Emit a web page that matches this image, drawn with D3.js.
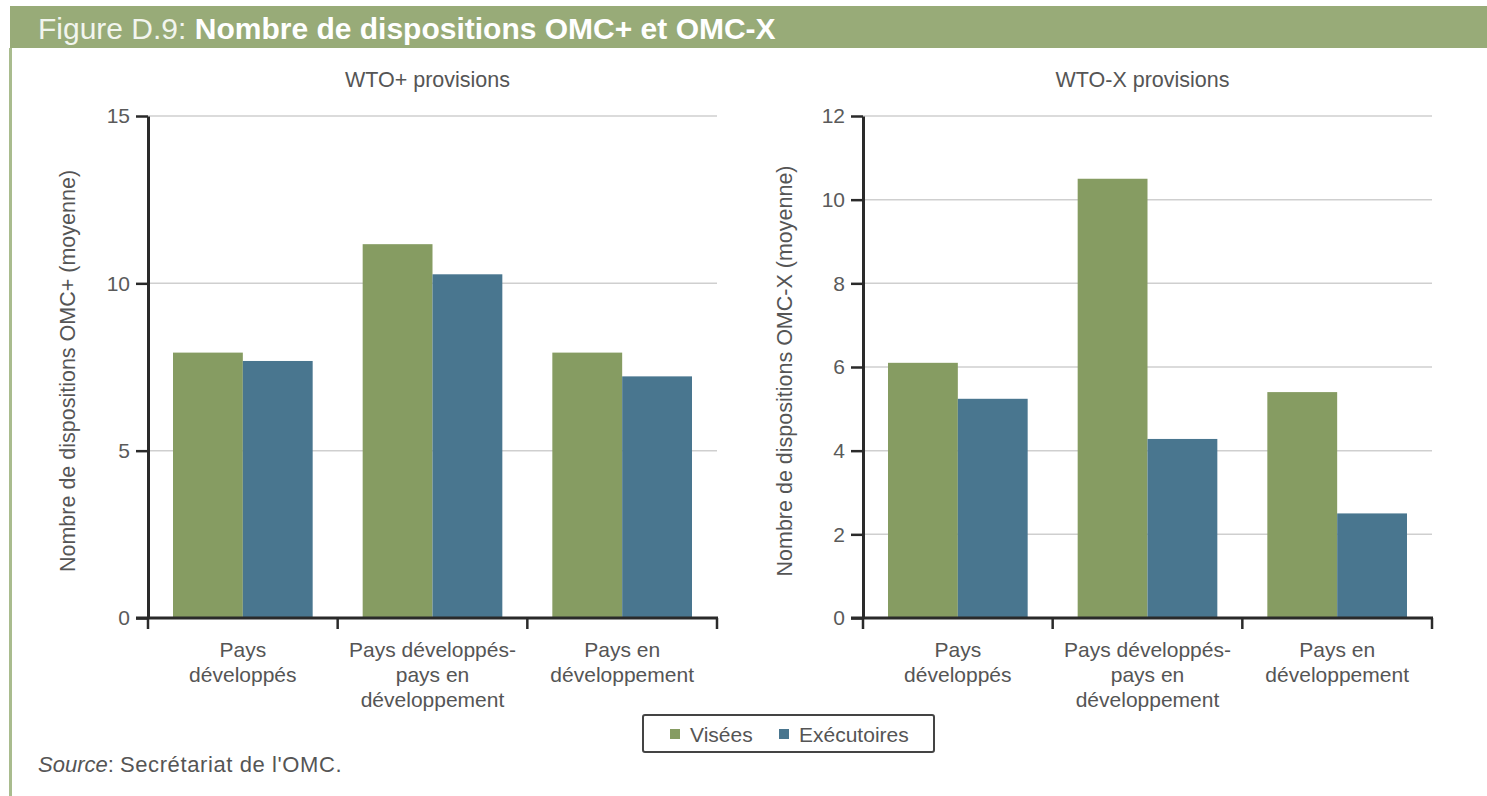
<!DOCTYPE html>
<html>
<head>
<meta charset="utf-8">
<script src="https://cdn.jsdelivr.net/npm/d3@7"></script>
<style>
  body { margin: 0; background: #fff; }
  svg { display: block; font-family: "Liberation Sans", Arial, sans-serif; }
</style>
</head>
<body>
<svg id="chart" width="1487" height="796"></svg>
<script>
// data
const categories = [
  ["Pays", "développés"],
  ["Pays développés-", "pays en", "développement"],
  ["Pays en", "développement"]
]
const series = ["Visées", "Exécutoires"]
const colors = ["#869c62", "#49768f"]

const wtoPlusVisees = [7.93, 11.17, 7.93]
const wtoPlusExec = [7.68, 10.27, 7.22]
const wtoXVisees = [6.1, 10.5, 5.4]
const wtoXExec = [5.24, 4.28, 2.5]

const leftTicks = [0, 5, 10, 15]
const rightTicks = [0, 2, 4, 6, 8, 10, 12]

const svg = d3.select("#chart")

// header band + frame
svg.append("rect").attr("x", 10).attr("y", 6).attr("width", 1477).attr("height", 42).attr("fill", "#98ab78")
svg.append("rect").attr("x", 9).attr("y", 48).attr("width", 3).attr("height", 748).attr("fill", "#a9bc8e")
const title = svg.append("text").attr("x", 38).attr("y", 39).attr("fill", "#fff").attr("font-size", 30)
title.append("tspan").attr("font-weight", "normal").attr("fill", "#f2f5ee").text("Figure D.9: ")
title.append("tspan").attr("font-weight", "bold").text("Nombre de dispositions OMC+ et OMC-X")

function panel(opts) {
  const {x0, x1, yTop, yBot, max, ticks, vis, exec, title, ylab} = opts
  const g = svg.append("g")

  const x = d3.scaleBand().domain(d3.range(categories.length)).range([x0, x1]).padding(0)
  const xs = d3.scaleBand().domain(series).range([25, x.bandwidth() - 25]).padding(0)
  const y = d3.scaleLinear().domain([0, max]).range([yBot, yTop])

  // grid
  g.append("g").selectAll("line").data(ticks.filter(t => t > 0)).join("line")
    .attr("x1", x0).attr("x2", x1)
    .attr("y1", d => y(d)).attr("y2", d => y(d))
    .attr("stroke", "#cfcfcf").attr("stroke-width", 1.5)

  // bars
  const rows = categories.map((c, i) => ({i, vals: [vis[i], exec[i]]}))
  g.append("g").selectAll("g").data(rows).join("g")
    .attr("transform", d => `translate(${x(d.i)},0)`)
    .selectAll("rect").data(d => d.vals.map((v, k) => ({k, v}))).join("rect")
      .attr("x", d => xs(series[d.k]))
      .attr("width", xs.bandwidth())
      .attr("y", d => y(d.v))
      .attr("height", d => y(0) - y(d.v))
      .attr("fill", d => colors[d.k])

  // y axis
  const ya = g.append("g").attr("transform", `translate(${x0},0)`)
    .call(d3.axisLeft(y).tickValues(ticks).tickSize(12).tickPadding(6).tickSizeOuter(0))
  ya.select(".domain").attr("stroke", "#2a2a2a").attr("stroke-width", 3)
  ya.selectAll(".tick line").attr("stroke", "#2a2a2a").attr("stroke-width", 2.5)
  ya.selectAll(".tick text").attr("font-size", 21).attr("fill", "#5a5a5a").attr("font-family", "Liberation Sans, Arial, sans-serif")

  // x axis
  const xa = g.append("g").attr("transform", `translate(0,${yBot})`)
  xa.append("line").attr("x1", x0 - 12).attr("x2", x1 + 1).attr("stroke", "#2a2a2a").attr("stroke-width", 3)
  xa.selectAll("line.t").data(d3.range(categories.length + 1)).join("line").attr("class", "t")
    .attr("x1", d => x0 + d * x.bandwidth()).attr("x2", d => x0 + d * x.bandwidth())
    .attr("y1", 0).attr("y2", 11).attr("stroke", "#2a2a2a").attr("stroke-width", 2.5)
  xa.selectAll("text").data(categories).join("text")
    .attr("x", (d, i) => x(i) + x.bandwidth() / 2)
    .attr("text-anchor", "middle").attr("font-size", 21).attr("fill", "#555")
    .selectAll("tspan").data(d => d).join("tspan")
      .attr("x", function() { return this.parentNode.getAttribute("x") })
      .attr("y", (d, j) => 39 + j * 25)
      .text(d => d)

  // titles
  g.append("text").attr("x", (x0 + x1) / 2 - 5).attr("y", 87).attr("text-anchor", "middle")
    .attr("font-size", 21.5).attr("fill", "#555").text(title)
  g.append("text").attr("transform", `translate(${opts.ylx},${(yTop + yBot) / 2 + 4}) rotate(-90)`)
    .attr("text-anchor", "middle").attr("font-size", 21.5).attr("fill", "#555").text(ylab)
}

panel({x0: 148, x1: 717, yTop: 116, yBot: 618, max: 15, ticks: leftTicks,
  vis: wtoPlusVisees, exec: wtoPlusExec, title: "WTO+ provisions",
  ylab: "Nombre de dispositions OMC+ (moyenne)", ylx: 75})
panel({x0: 863, x1: 1432, yTop: 116, yBot: 618, max: 12, ticks: rightTicks,
  vis: wtoXVisees, exec: wtoXExec, title: "WTO-X provisions",
  ylab: "Nombre de dispositions OMC-X (moyenne)", ylx: 792})

// legend
const lg = svg.append("g")
lg.append("rect").attr("x", 643).attr("y", 715).attr("width", 291).attr("height", 37).attr("rx", 2)
  .attr("fill", "#fff").attr("stroke", "#444").attr("stroke-width", 2)
const litems = [{x: 670, label: series[0], c: colors[0]}, {x: 779, label: series[1], c: colors[1]}]
lg.selectAll("rect.sw").data(litems).join("rect").attr("class", "sw")
  .attr("x", d => d.x).attr("y", 729).attr("width", 10).attr("height", 10).attr("fill", d => d.c)
lg.selectAll("text").data(litems).join("text")
  .attr("x", d => d.x + 20).attr("y", 742).attr("font-size", 21).attr("fill", "#555").text(d => d.label)

// source
const src = svg.append("text").attr("x", 38).attr("y", 772).attr("font-size", 22).attr("fill", "#555")
src.append("tspan").attr("font-style", "italic").text("Source")
src.append("tspan").text(": ")
src.append("tspan").attr("letter-spacing", 0.6).text("Secrétariat de l'OMC.")
</script>
</body>
</html>
